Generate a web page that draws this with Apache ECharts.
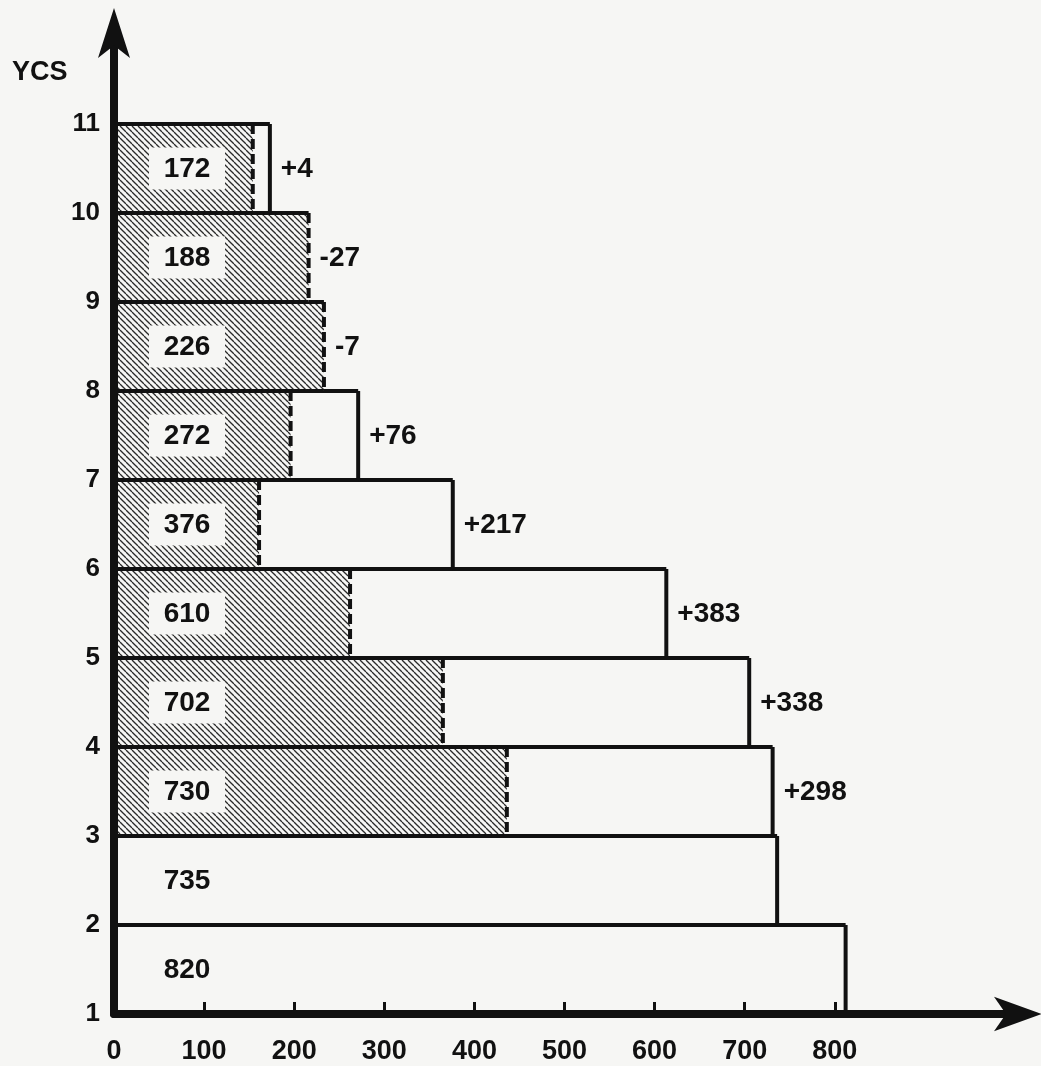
<!DOCTYPE html>
<html>
<head>
<meta charset="utf-8">
<script src="https://cdn.jsdelivr.net/npm/echarts@6/dist/echarts.min.js"></script>
<style>
html,body{margin:0;padding:0;background:#f6f6f4;}
#chart{width:1041px;height:1066px;}
</style>
</head>
<body>
<div id="chart"></div>
<script>
// Bands (lower YCS bound of each band)
const ycsLow = [1, 2, 3, 4, 5, 6, 7, 8, 9, 10];
// right end of each outlined bar (as drawn)
const barEnds = [812, 736, 731, 705, 613, 376, 271, 233, 216, 173];
// right end of the hatched part (dashed line)
const hatchedEnds = [0, 0, 436, 365, 262, 161, 196, 233, 216, 154];
// printed values inside the bars
const valueLabels = ['820', '735', '730', '702', '610', '376', '272', '226', '188', '172'];
// printed changes right of the bars
const deltaLabels = ['', '', '+298', '+338', '+383', '+217', '+76', '-7', '-27', '+4'];
// axis labels
const xLabelValues = [0, 100, 200, 300, 400, 500, 600, 700, 800];
const xTickValues = [100, 200, 300, 400, 500, 600, 700, 800];
const yLabelValues = [1, 2, 3, 4, 5, 6, 7, 8, 9, 10, 11];

const BG = '#f6f6f4';
const INK = '#111';
const FONT = '"Liberation Sans", Arial, sans-serif';

// diagonal hatch pattern "\\\\"
const tile = document.createElement('canvas');
const S = 6;
tile.width = S; tile.height = S;
(function () {
  const c = tile.getContext('2d');
  c.fillStyle = BG; c.fillRect(0, 0, S, S);
  c.strokeStyle = '#2a2a2a'; c.lineWidth = 1.3;
  [-S, 0, S].forEach(function (o) {
    c.beginPath(); c.moveTo(0, o); c.lineTo(S, S + o); c.stroke();
  });
})();
const hatchFill = { image: tile, repeat: 'repeat' };

const seriesData = ycsLow.map(function (y, i) { return [y, barEnds[i], hatchedEnds[i]]; });

function renderItem(params, api) {
  const i = params.dataIndex;
  const yLow = api.value(0), end = api.value(1), hat = api.value(2);
  const bl = api.coord([0, yLow]);
  const tr = api.coord([end, yLow + 1]);
  const hp = api.coord([hat, yLow + 1]);
  const x0 = bl[0], bottom = bl[1], top = tr[1], xr = tr[0], xh = hp[0];
  const mid = (top + bottom) / 2;
  const children = [];
  if (hat > 0) {
    children.push({ type: 'rect', shape: { x: x0, y: top, width: xh - x0, height: bottom - top }, style: { fill: hatchFill } });
    children.push({ type: 'rect', shape: { x: x0 + 35, y: mid - 21, width: 76, height: 42 }, style: { fill: BG } });
  }
  children.push({ type: 'text', style: { text: valueLabels[i], x: x0 + 73, y: mid + 1, align: 'center', verticalAlign: 'middle', font: 'bold 28px ' + FONT, fill: INK } });
  children.push({ type: 'polyline', shape: { points: [[xr, top], [x0, top], [x0, bottom], [xr, bottom]] }, style: { stroke: INK, lineWidth: 4, fill: null } });
  const rightDashed = hat > 0 && hat >= end;
  children.push({ type: 'line', shape: { x1: xr, y1: top, x2: xr, y2: bottom }, style: { stroke: INK, lineWidth: 4, lineDash: rightDashed ? [10, 5] : null } });
  if (hat > 0 && hat < end) {
    children.push({ type: 'line', shape: { x1: xh, y1: top, x2: xh, y2: bottom }, style: { stroke: INK, lineWidth: 4, lineDash: [10, 5] } });
  }
  if (deltaLabels[i]) {
    children.push({ type: 'text', style: { text: deltaLabels[i], x: xr + 11, y: mid + 1, align: 'left', verticalAlign: 'middle', font: 'bold 28px ' + FONT, fill: INK } });
  }
  return { type: 'group', children: children };
}

const chart = echarts.init(document.getElementById('chart'), null, { renderer: 'canvas' });
chart.setOption({
  backgroundColor: BG,
  animation: false,
  title: {
    text: 'YCS', left: 12, top: 59, padding: 0,
    textStyle: { fontFamily: FONT, fontWeight: 'bold', fontSize: 27, color: INK }
  },
  grid: { left: 114, right: 26, top: 35, bottom: 52 },
  xAxis: {
    type: 'value', min: 0, max: 1000, z: 5,
    axisLine: { show: true, symbol: ['none', 'arrow'], symbolSize: [26, 48], symbolOffset: [0, 27], lineStyle: { color: INK, width: 8 } },
    axisTick: { show: true, inside: true, length: 12, customValues: xTickValues, lineStyle: { color: INK, width: 3 } },
    axisLabel: { customValues: xLabelValues, margin: 24, fontFamily: FONT, fontWeight: 'bold', fontSize: 27, color: INK },
    splitLine: { show: false }
  },
  yAxis: {
    type: 'value', min: 1, max: 12, z: 5,
    axisLine: { show: true, symbol: ['none', 'arrow'], symbolSize: [24, 50], symbolOffset: [0, 27], lineStyle: { color: INK, width: 8 } },
    axisTick: { show: false },
    axisLabel: { customValues: yLabelValues, margin: 14, fontFamily: FONT, fontWeight: 'bold', fontSize: 26, color: INK },
    splitLine: { show: false }
  },
  series: [{
    type: 'custom',
    renderItem: renderItem,
    encode: { x: [1, 2], y: 0 },
    data: seriesData,
    clip: false
  }]
});
</script>
</body>
</html>
